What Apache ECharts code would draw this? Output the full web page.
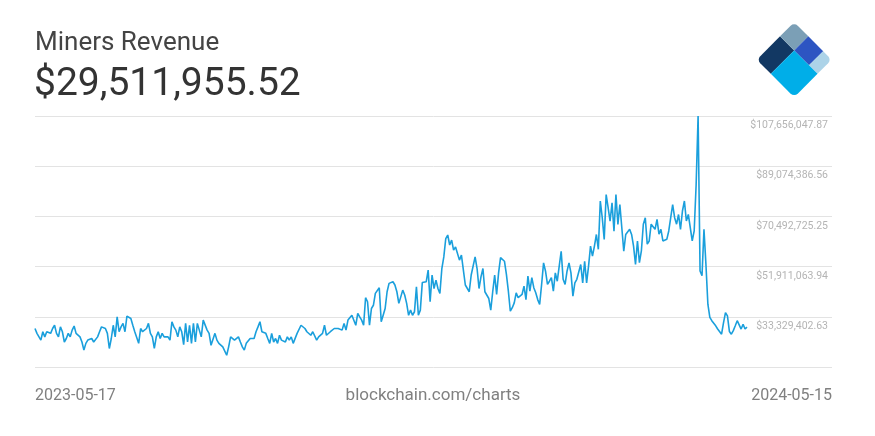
<!DOCTYPE html>
<html><head><meta charset="utf-8">
<script src="https://cdn.jsdelivr.net/npm/echarts/dist/echarts.min.js"></script>
<style>html,body{margin:0;padding:0;background:#fff}#c{width:875px;height:436px}</style>
</head><body><div id="c"></div><script>
const chartTitle = 'Miners Revenue';
const latestValue = '$29,511,955.52';
const startDate = '2023-05-17';
const endDate = '2024-05-15';
const sourceText = 'blockchain.com/charts';
// y grid: tick index -> label (index 0 is the unlabeled bottom line)
const yTickLabels = ['', '$33,329,402.63', '$51,911,063.94', '$70,492,725.25', '$89,074,386.56', '$107,656,047.87'];
const yMinMillions = 14.747741;
const yMaxMillions = 107.656048;

// daily miners revenue, millions USD
const revenueMayJul2023 = [29.0,27.2,26.5,24.7,27.8,25.9,27.8,27.8,27.2,29.0,30.2,27.2,25.9,29.6,27.8,24.0,25.3,27.2,25.9,28.4,29.9,27.2,27.2,25.9,24.0,21.0,23.5,24.7,24.0,25.3,24.0,23.5,25.9,27.8,29.6,29.9,29.0,27.2,21.6,25.3,30.2,25.9,33.3,27.8,29.6,30.9,27.8,33.6,33.9,32.7,30.2,27.8,28.4,23.5,29.0,27.8,28.4,29.0,30.9,27.2,25.9,21.6,25.9,27.8,25.3,27.2,25.9,26.5,25.9,24.7,31.5,29.6,28.4,25.9,29.6,27.8,23.0];
const revenueAugOct2023 = [30.9,24.0,30.2,23.5,30.9,24.0,30.9,31.5,25.9,32.1,31.9,28.4,27.2,22.8,23.5,27.2,24.7,23.5,23.5,22.2,21.6,19.1,22.2,25.9,26.5,24.7,25.3,25.9,24.0,22.2,21.0,23.5,22.8,25.3,24.7,25.3,27.8,29.6,31.5,27.8,27.2,27.2,25.3,23.5,27.2,24.0,25.3,23.5,26.5,24.7,25.3,24.0,25.9,24.7,25.9,23.5,24.0,27.2,27.8,30.2,29.6,29.0,27.8,28.4,26.5,27.8,27.2,24.7,25.9,25.3,27.2,30.2,26.5,27.2,27.8,28.4,29.0,29.6];
const revenueOct2023Jan2024 = [29.0,29.6,28.4,30.9,28.4,32.1,32.7,33.9,34.2,30.2,34.6,33.3,32.1,30.2,40.4,38.9,30.2,36.4,37.6,42.0,42.0,44.1,31.5,33.9,36.4,42.6,45.7,45.7,46.3,45.1,42.6,38.3,40.7,43.2,41.4,38.3,33.9,35.8,33.9,35.2,44.4,33.9,35.8,46.0,46.3,46.3,50.6,38.9,48.8,43.8,46.9,43.8,42.0,51.2,55.5,62.3,63.6,59.9,61.7,58.0,59.2,59.9,54.3,56.2,50.6,45.1,44.4,42.6,48.8,49.4,55.5,51.2,43.8,48.1,51.2,42.6,42.0,40.1,35.8,42.6,48.8];
const revenueJanMar2024 = [41.6,49.6,55.2,55.8,53.9,49.0,42.8,35.4,36.7,38.5,42.2,40.4,40.4,41.6,44.7,39.7,48.4,42.8,47.8,44.1,42.2,39.7,37.9,45.3,53.3,50.2,45.3,46.5,47.8,42.8,49.6,46.5,52.1,57.6,47.2,45.3,50.2,53.3,49.6,41.0,45.9,47.2,46.5,52.7,45.9,53.9,45.9,52.1,59.5,55.8,59.5,63.8,58.3,76.2,70.0,62.0,78.6,73.7,68.7,75.5,65.0,78.6,67.5,74.9,66.3,57.6,63.8,64.4,65.7,63.8,59.5,52.7];
const revenueMarMay2024 = [61.4,53.4,57.7,67.6,70.0,60.2,61.4,67.6,66.9,65.7,69.4,63.9,65.7,61.4,60.8,62.0,65.1,70.0,74.9,70.0,67.6,71.2,65.7,72.5,76.2,68.8,71.2,71.2,61.4,65.1,82.3,107.656048,50.3,48.5,65.7,52.8,38.0,33.1,31.9,31.2,30.0,28.8,29.1,26.9,31.2,34.9,33.7,27.9,26.9,28.2,30.0,31.9,31.2,28.8,30.6,28.8,29.511956];

const revenue = [].concat(revenueMayJul2023, revenueAugOct2023, revenueOct2023Jan2024, revenueJanMar2024, revenueMarMay2024);
const dates = [];
{
  const d0 = new Date(startDate + 'T00:00:00Z');
  for (let i = 0; i < revenue.length; i++) {
    const d = new Date(d0.getTime() + i * 86400000);
    dates.push(d.toISOString().slice(0, 10));
  }
}

const FONT = 'Roboto, "Noto Sans", sans-serif';
const chart = echarts.init(document.getElementById('c'), null, {renderer: 'canvas'});
chart.setOption({
  animation: false,
  backgroundColor: '#ffffff',
  grid: [
    {left: 35, right: 43, top: 116, height: 251},
    {left: 35, right: 128, top: 116, height: 251}
  ],
  xAxis: [
    {gridIndex: 0, type: 'value', min: 0, max: 1, show: false},
    {gridIndex: 1, type: 'category', data: dates, boundaryGap: false, show: false}
  ],
  yAxis: [
    {
      gridIndex: 0, type: 'value', position: 'right', min: 0, max: yTickLabels.length - 1, interval: 1,
      axisLine: {show: false}, axisTick: {show: false},
      splitLine: {show: true, lineStyle: {color: '#e3e3e3', width: 1}},
      axisLabel: {
        inside: true, margin: 4, showMaxLabel: true, showMinLabel: true,
        verticalAlign: 'top', padding: [4, 0, 0, 0],
        color: '#b4b4b4', fontSize: 10.5, fontFamily: FONT,
        formatter: v => yTickLabels[Math.round(v)] || ''
      }
    },
    {gridIndex: 1, type: 'value', min: yMinMillions, max: yMaxMillions, show: false, splitLine: {show: false}}
  ],
  series: [{
    type: 'line', xAxisIndex: 1, yAxisIndex: 1, data: revenue,
    showSymbol: false, symbol: 'none',
    lineStyle: {color: '#1a9fdc', width: 1.6},
    itemStyle: {color: '#1a9fdc'}
  }],
  graphic: [
    {type: 'text', left: 35, top: 30, style: {text: chartTitle, fill: '#444444', font: '26px ' + FONT}},
    {type: 'text', left: 34, top: 66, style: {text: latestValue, fill: '#333333', font: '39px ' + FONT}},
    {type: 'text', left: 35, top: 388, style: {text: startDate, fill: '#808080', font: '16px ' + FONT}},
    {type: 'text', x: 433, y: 387, style: {text: sourceText, fill: '#808080', font: '17px ' + FONT, textAlign: 'center', textVerticalAlign: 'top'}},
    {type: 'text', right: 43, top: 388, style: {text: endDate, fill: '#808080', font: '16px ' + FONT}},
    {
      type: 'group', x: 756.7, y: 59.7, rotation: Math.PI / 4,
      children: [
        {type: 'rect', shape: {x: 0, y: 0, width: 33, height: 20, r: [5, 0, 0, 0]}, style: {fill: '#123863'}},
        {type: 'rect', shape: {x: 33, y: 0, width: 20, height: 20, r: [0, 5, 0, 0]}, style: {fill: '#7b9fb6'}},
        {type: 'rect', shape: {x: 33, y: 20, width: 20, height: 21}, style: {fill: '#2d55c2'}},
        {type: 'rect', shape: {x: 33, y: 41, width: 20, height: 12, r: [0, 0, 5, 0]}, style: {fill: '#acd3e8'}},
        {type: 'rect', shape: {x: 0, y: 20, width: 33, height: 33, r: [0, 0, 0, 5]}, style: {fill: '#00aee8'}}
      ]
    }
  ]
});
</script></body></html>
